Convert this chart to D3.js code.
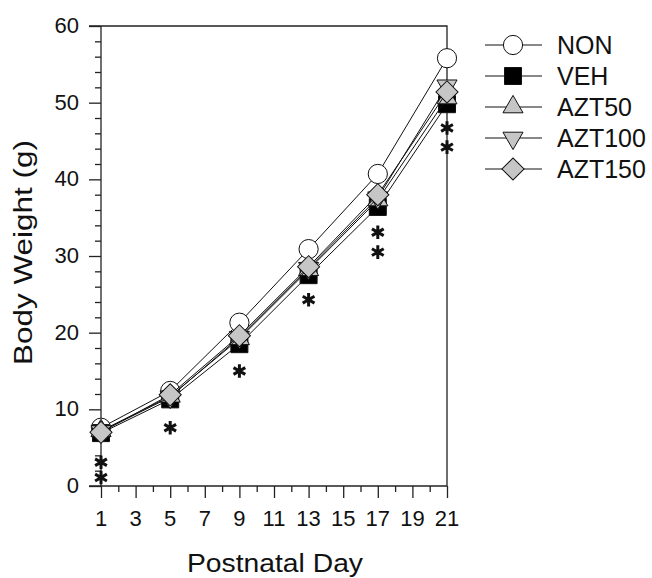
<!DOCTYPE html>
<html>
<head>
<meta charset="utf-8">
<script src="https://cdn.jsdelivr.net/npm/d3@7"></script>
<style>
    body { margin: 0; background: white; }
    svg { display: block; font-family: 'Liberation Sans', Arial, sans-serif; }
</style>
</head>
<body>
<div id="chart"></div>
<script>
let days = [1, 5, 9, 13, 17, 21];
let seriesNames = ['NON', 'VEH', 'AZT50', 'AZT100', 'AZT150'];
let nonValues = [7.6, 12.4, 21.3, 30.9, 40.7, 55.8];
let vehValues = [6.9, 11.3, 18.5, 27.5, 36.4, 49.8];
let azt50Values = [7.2, 11.7, 19.2, 28.2, 37.3, 50.6];
let azt100Values = [7.1, 11.6, 19.4, 28.4, 37.6, 52.2];
let azt150Values = [7.0, 11.9, 19.6, 28.6, 38.0, 51.4];
let starDays = [1, 1, 5, 9, 13, 17, 17, 21, 21];
let starValues = [3.1, 1.1, 7.6, 15.0, 24.3, 33.1, 30.5, 46.7, 44.2];
let xTickLabels = [1, 3, 5, 7, 9, 11, 13, 15, 17, 19, 21];
let yTickLabels = [0, 10, 20, 30, 40, 50, 60];

window.onload = () => {
    let width = 652, height = 578;
    let svg = d3.select('#chart').append('svg')
        .attr('width', width)
        .attr('height', height);

    let x = d3.scaleLinear([1, 21], [101, 447]);
    let y = d3.scaleLinear([0, 60], [486, 26]);

    let series = [nonValues, vehValues, azt50Values, azt100Values, azt150Values]
        .map((vals, i) => ({ name: seriesNames[i], values: vals.map((v, j) => ({ day: days[j], value: v })) }));

    let gray = '#c6c6c6';
    let markers = {
        NON: { type: d3.symbolCircle, size: 290, fill: 'white', rotate: 0 },
        VEH: { type: d3.symbolSquare, size: 289, fill: 'black', rotate: 0 },
        AZT50: { type: d3.symbolTriangle, size: 175, fill: gray, rotate: 0 },
        AZT100: { type: d3.symbolTriangle, size: 175, fill: gray, rotate: 180 },
        AZT150: { type: d3.symbolSquare, size: 245, fill: gray, rotate: 45 }
    };

    // frame
    svg.append('path')
        .attr('d', `M${x(1) - 12},${y(60)}H${x(21)}V${y(0)}`)
        .attr('fill', 'none')
        .attr('stroke', '#222')
        .attr('stroke-width', 1.3);

    let yAxis = svg.append('g')
        .attr('transform', `translate(${x(1)},0)`)
        .call(d3.axisLeft(y).tickValues(d3.range(0, 61, 2)).tickSize(6).tickFormat(''))
        .call(g => g.select('.domain').remove());
    yAxis.selectAll('.tick line')
        .attr('x2', d => d % 10 === 0 ? -12 : -6)
        .attr('stroke', '#222')
        .attr('stroke-width', 1.3);
    svg.append('line')
        .attr('x1', x(1)).attr('x2', x(1))
        .attr('y1', y(60)).attr('y2', y(0))
        .attr('stroke', '#222').attr('stroke-width', 1.3);

    let xAxis = svg.append('g')
        .attr('transform', `translate(0,${y(0)})`)
        .call(d3.axisBottom(x).tickValues(d3.range(1, 22)).tickSize(6).tickFormat(''))
        .call(g => g.select('.domain').remove());
    xAxis.selectAll('.tick line')
        .attr('y2', d => d % 2 === 1 ? 12 : 6)
        .attr('stroke', '#222')
        .attr('stroke-width', 1.3);
    svg.append('line')
        .attr('x1', x(1) - 12).attr('x2', x(21))
        .attr('y1', y(0)).attr('y2', y(0))
        .attr('stroke', '#222').attr('stroke-width', 1.3);

    svg.append('g')
        .attr('font-size', 22)
        .attr('fill', '#111')
        .selectAll('text')
        .data(yTickLabels)
        .join('text')
        .attr('x', 79)
        .attr('y', d => y(d) + 7)
        .attr('text-anchor', 'end')
        .text(d => d);

    svg.append('g')
        .attr('font-size', 22)
        .attr('fill', '#111')
        .selectAll('text')
        .data(xTickLabels)
        .join('text')
        .attr('x', d => x(d))
        .attr('y', 526)
        .attr('text-anchor', 'middle')
        .text(d => d);

    svg.append('text')
        .attr('x', 187)
        .attr('y', 572)
        .attr('font-size', 26)
        .attr('fill', '#111')
        .attr('textLength', 176)
        .attr('lengthAdjust', 'spacingAndGlyphs')
        .text('Postnatal Day');

    svg.append('text')
        .attr('transform', `translate(32,365) rotate(-90)`)
        .attr('font-size', 26)
        .attr('fill', '#111')
        .attr('textLength', 225)
        .attr('lengthAdjust', 'spacingAndGlyphs')
        .text('Body Weight (g)');

    let line = d3.line().x(d => x(d.day)).y(d => y(d.value));
    let symbolPath = m => d3.symbol().type(m.type).size(m.size)();

    series.forEach(s => {
        let m = markers[s.name];
        let g = svg.append('g');
        g.append('path')
            .datum(s.values)
            .attr('d', line)
            .attr('fill', 'none')
            .attr('stroke', '#111')
            .attr('stroke-width', 1);
        g.selectAll('path.pt')
            .data(s.values)
            .join('path')
            .attr('class', 'pt')
            .attr('transform', d => `translate(${x(d.day)},${y(d.value)}) rotate(${m.rotate})`)
            .attr('d', symbolPath(m))
            .attr('fill', m.fill)
            .attr('stroke', '#111')
            .attr('stroke-width', 1);
    });

    svg.append('g')
        .selectAll('path')
        .data(starDays.map((d, i) => ({ day: d, value: starValues[i] })))
        .join('path')
        .attr('transform', d => `translate(${x(d.day)},${y(d.value)})`)
        .attr('d', d3.symbol().type(d3.symbolAsterisk).size(130)())
        .attr('fill', 'none')
        .attr('stroke', '#111')
        .attr('stroke-width', 3);

    let legend = svg.append('g')
        .selectAll('g')
        .data(seriesNames)
        .join('g')
        .attr('transform', (d, i) => `translate(0,${45 + i * 31})`);
    legend.append('line')
        .attr('x1', 485).attr('x2', 542)
        .attr('stroke', '#111')
        .attr('stroke-width', 1);
    legend.append('path')
        .attr('transform', d => `translate(513,0) rotate(${markers[d].rotate})`)
        .attr('d', d => symbolPath(markers[d]))
        .attr('fill', d => markers[d].fill)
        .attr('stroke', '#111')
        .attr('stroke-width', 1);
    legend.append('text')
        .attr('x', 557)
        .attr('y', 9)
        .attr('font-size', 25)
        .attr('fill', '#111')
        .text(d => d);
};
</script>
</body>
</html>
